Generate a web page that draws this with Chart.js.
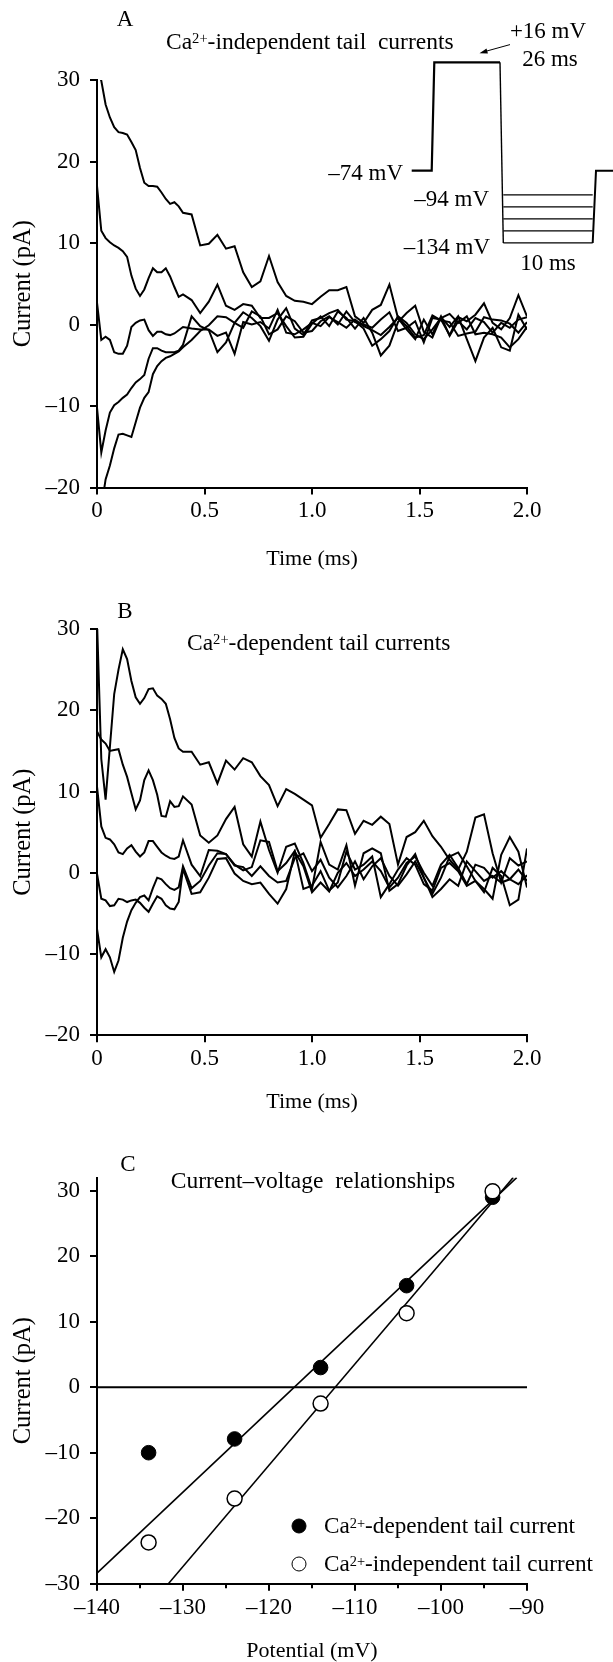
<!DOCTYPE html>
<html>
<head>
<meta charset="utf-8">
<script src="https://cdn.jsdelivr.net/npm/chart.js"></script>
<style>
body{margin:0;background:#fff;}
#page{position:relative;width:613px;height:1662px;overflow:hidden;font-family:'Liberation Serif',serif;font-size:23px;color:#000;}
canvas{position:absolute;left:0;}
.t{position:absolute;white-space:nowrap;line-height:1;}
.c{transform:translate(-50%,-50%);}
.l{transform:translateY(-50%);}
.r{transform:translate(-100%,-50%);}
sup{font-size:0.62em;vertical-align:0;position:relative;top:-0.38em;}
.ttl{font-size:23.5px;}
.leg{font-size:23.2px;}
.dot{position:absolute;width:15px;height:15px;border-radius:50%;transform:translate(-50%,-50%);box-sizing:border-box;border:1.5px solid #000;}
</style>
</head>
<body>
<div id="page">
<canvas id="chartA" width="613" height="580" style="top:0px"></canvas>
<canvas id="chartB" width="613" height="540" style="top:580px"></canvas>
<canvas id="chartC" width="613" height="542" style="top:1120px"></canvas>

<div class="t c" style="left:125px;top:18px">A</div>
<div class="t l ttl" style="left:166px;top:42px">Ca<sup>2+</sup>-independent tail&nbsp; currents</div>
<div class="t c" style="left:548px;top:30px">+16 mV</div>
<div class="t c" style="left:550px;top:58px">26 ms</div>
<div class="t r" style="left:403px;top:172px">–74 mV</div>
<div class="t r" style="left:489px;top:198px">–94 mV</div>
<div class="t r" style="left:490px;top:246px">–134 mV</div>
<div class="t c" style="left:548px;top:262px">10 ms</div>

<div class="t c" style="left:125px;top:610px">B</div>
<div class="t l ttl" style="left:187px;top:643px">Ca<sup>2+</sup>-dependent tail currents</div>

<div class="t c" style="left:128px;top:1163px">C</div>
<div class="t c ttl" style="left:313px;top:1181px">Current–voltage&nbsp; relationships</div>
<div class="dot" style="left:299px;top:1526px;background:#000"></div>
<div class="t l leg" style="left:324px;top:1526px">Ca<sup>2+</sup>-dependent tail current</div>
<div class="dot" style="left:299px;top:1564px;background:#fff"></div>
<div class="t l leg" style="left:324px;top:1564px">Ca<sup>2+</sup>-independent tail current</div>
</div>
<script>
//Data
var timeMs = [0,0.02,0.04,0.06,0.08,0.1,0.12,0.14,0.16,0.18,0.2,0.22,0.24,0.26,0.28,0.3,0.32,0.34,0.36,0.38,0.4,
	0.44,0.48,0.52,0.56,0.6,0.64,0.68,0.72,0.76,0.8,0.84,0.88,0.92,0.96,1,1.04,1.08,1.12,1.16,1.2,
	1.24,1.28,1.32,1.36,1.4,1.44,1.48,1.52,1.56,1.6,1.64,1.68,1.72,1.76,1.8,1.84,1.88,1.92,1.96,2];
//A - Ca2+-independent, one trace per step potential
var indep94 = [31.5,29.9,27.0,25.4,24.2,23.6,23.5,23.3,22.4,21.4,19.2,17.4,17.0,17.0,16.9,16.2,15.4,14.8,15.0,14.5,13.7,
	13.5,9.7,9.9,11.0,9.3,9.6,6.4,4.6,5.3,8.4,5.2,3.5,2.9,2.8,2.5,3.4,4.2,4.2,4.6,1.0,
	0.2,1.8,2.4,4.9,0.8,-0.6,-1.8,0.6,-1.2,1.0,-1.4,0.4,-0.6,0.8,0.3,-1.0,0.2,-0.4,0.6,0.9];
var indep104 = [17.0,11.5,10.6,10.1,9.7,9.4,9.0,8.3,6.0,4.4,3.5,4.3,5.7,6.9,6.4,6.4,6.9,5.9,4.6,3.4,3.7,
	3.0,1.4,2.8,4.9,2.3,1.8,2.5,2.3,0.8,0.8,1.4,-0.2,-1.6,-1.5,0.1,1.0,-0.2,1.6,0.8,-0.5,
	0.8,-1.0,-3.8,-2.6,0.3,1.4,2.3,-0.9,-1.6,0.9,-0.3,1.0,-1.8,-4.5,-1.6,-0.4,-2.8,-3.2,1.2,-0.6];
var indep114 = [2.7,-1.9,-1.5,-1.9,-3.4,-3.6,-3.6,-2.6,-0.3,0.2,0.5,0.6,-0.7,-1.4,-0.9,-0.9,-1.2,-1.3,-1.1,-0.7,-0.3,
	-0.5,-0.6,-0.6,-1.4,-1.0,-3.6,0.3,0.0,0.3,-0.5,1.8,-1.0,-1.2,-0.6,0.2,-0.2,0.9,0.3,-0.4,0.6,
	-0.2,-0.7,-1.3,-0.3,0.8,-0.2,-1.6,-1.3,1.1,0.5,0.3,-1.4,-1.1,-0.9,0.9,0.6,0.5,0.1,-1.0,0.3];
var indep124 = [-10.2,-15.7,-13.0,-10.8,-9.9,-9.5,-9.0,-8.6,-7.8,-7.1,-6.7,-6.2,-4.2,-2.9,-2.9,-3.2,-3.4,-3.4,-3.4,-3.2,-2.5,
	1.0,-0.2,-0.7,-3.4,-2.2,0.2,1.5,0.8,-0.2,-2.0,0.6,2.0,-0.5,-1.3,0.5,0.8,1.4,1.8,0.6,0.4,
	-0.5,-2.6,-1.8,-0.8,1.0,0.2,-1.2,-1.8,-0.6,0.8,1.3,0.2,1.0,-1.2,-1.0,-1.2,-1.6,-2.8,-1.8,-0.3];
var indep134 = [-25,-22.5,-19.0,-17.3,-15.2,-13.5,-13.4,-13.6,-13.8,-12.0,-10.2,-9.0,-8.3,-6.1,-5.1,-4.5,-4.1,-3.9,-3.6,-3.3,-2.8,
	-1.9,-0.8,-0.1,1.0,0.9,0.2,-0.4,1.6,1.0,-1.2,-0.6,1.0,0.4,-1.0,-0.8,0.4,1.0,0.0,1.6,0.3,
	0.0,-0.4,0.6,1.5,-0.8,-0.4,0.4,-2.2,0.8,0.6,-1.3,0.9,0.4,1.2,2.6,0.2,-0.6,0.8,3.6,1.0];
//B - Ca2+-dependent
var dep94 = [31.0,14.0,9.0,15.5,22.0,25.0,27.5,26.3,23.6,21.6,20.8,21.5,22.6,22.7,21.8,21.4,20.8,18.9,16.6,15.3,14.9,
	14.9,13.3,13.6,11.0,13.8,12.7,14.1,13.6,11.9,10.8,8.2,10.3,9.7,9.0,8.3,4.3,6.0,7.8,7.7,4.8,
	6.4,5.9,6.9,6.0,1.0,4.4,5.0,6.4,4.5,3.2,1.6,0.4,2.6,6.8,7.2,2.4,-1.2,1.8,0.9,1.4];
var dep104 = [17.4,16.4,15.9,15.0,15.1,15.2,13.3,11.8,9.8,7.8,8.9,11.4,12.6,11.4,9.6,7.0,6.9,8.8,8.1,8.2,9.4,
	8.4,4.6,3.7,4.6,6.6,8.1,3.5,2.0,6.3,2.8,0.0,3.2,3.6,1.2,-2.0,3.8,1.0,0.4,3.4,-1.6,
	2.4,3.0,2.4,-2.2,-1.4,0.9,2.3,-0.6,-2.6,-0.6,2.0,2.5,0.8,-1.0,-2.0,-3.2,2.2,4.4,2.6,-1.8];
var dep114 = [10.6,5.7,4.3,4.1,3.5,2.5,2.3,3.0,3.4,2.6,2.0,2.5,3.9,3.9,3.2,2.5,2.1,1.8,1.7,2.0,4.0,
	1.0,-0.4,2.8,2.7,2.3,1.0,0.3,0.7,4.0,3.8,0.2,1.2,2.7,-2.0,-1.6,0.2,-2.2,-1.2,2.6,0.4,
	1.0,2.0,-3.0,-1.4,0.4,1.8,1.0,-1.4,-2.2,0.6,1.2,0.2,-1.6,-1.0,-2.4,0.6,-0.4,-4.0,-3.3,3.0];
var dep124 = [-0.1,-3.2,-3.4,-4.1,-4.0,-3.2,-3.3,-3.6,-3.4,-3.3,-3.7,-4.3,-4.8,-3.8,-2.9,-3.2,-4.0,-4.4,-4.5,-3.6,0.5,
	-2.6,-2.4,-0.6,1.7,1.8,-0.1,-1.0,-1.4,-1.2,-2.6,-3.8,-2.0,2.6,0.8,-2.4,-1.2,-2.3,0.0,1.2,-0.4,
	0.4,1.4,0.2,-1.8,-0.6,1.2,2.0,0.0,-1.6,1.0,2.2,0.6,-1.4,1.0,0.6,-0.6,0.2,-0.8,-1.4,-0.3];
var dep134 = [-6.9,-10.4,-9.4,-10.4,-12.2,-10.8,-8.0,-6.0,-4.6,-3.7,-3.0,-2.8,-3.4,-1.9,-0.6,-0.8,-1.4,-1.9,-2.1,-1.8,0.8,
	-1.9,-1.0,0.9,2.4,2.3,0.9,0.7,-0.4,0.8,-0.4,-1.2,-1.0,1.8,2.4,0.2,1.6,-0.6,-1.8,-0.4,1.4,
	-0.8,0.8,1.8,-0.4,-1.6,-0.2,1.4,-0.6,-3.0,-2.0,-0.8,-1.6,1.4,0.2,-1.0,-0.4,-1.2,-0.8,0.4,-1.0];
//C - current-voltage
var potentialMv = [-134,-124,-114,-104,-94];
var depCurrent = [-10.0,-7.9,3.0,15.5,29.0];
var indepCurrent = [-23.7,-17.0,-2.5,11.3,29.9];
var fitDepMv = [-140,-91.2], fitDepPa = [-28.4,32];
var fitIndepMv = [-131.7,-91.6], fitIndepPa = [-30,32];
var zeroMv = [-140,-90], zeroPa = [0,0];
//Ticks
var tickTime = [0,0.5,1,1.5,2];
var tickTimeLabels = ['0','0.5','1.0','1.5','2.0'];
var tickCurrentAB = [-20,-10,0,10,20,30];
var tickCurrentC = [-30,-20,-10,0,10,20,30];
var tickPotential = [-140,-130,-120,-110,-100,-90];
var minorPotential = [-135,-125,-115,-105,-95];
//Protocol inset (mV)
var holdMv = -74, pulseMv = 16, stepMv = [-94,-104,-114,-124,-134];

var tickFont = {family:'Liberation Serif',size:23};
var xTitleFont = {family:'Liberation Serif',size:22};
var yTitleFont = {family:'Liberation Serif',size:24.5};
function xy(xs,ys){return xs.map(function(x,i){return {x:x,y:ys[i]};});}
function traces(list){
	return list.map(function(v){
		return {data:xy(timeMs,v),borderColor:'#000',borderWidth:2,pointRadius:0,tension:0,fill:false};
	});
}
function fixTicks(arr){return function(s){s.ticks=arr.map(function(v){return {value:v};});};}
function dash(v){return v<0?'–'+(-v):''+v;}
var gridOpt = {drawOnChartArea:false,tickLength:7,color:'#000',lineWidth:2};
var borderOpt = {color:'#000',width:2};
function currentAxis(min,max,ticks){
	return {type:'linear',min:min,max:max,afterBuildTicks:fixTicks(ticks),
		afterFit:function(s){s.width=97;},
		ticks:{font:tickFont,color:'#000',padding:10,callback:dash},
		grid:gridOpt,border:borderOpt,
		title:{display:true,text:'Current (pA)',font:yTitleFont,color:'#000',padding:{top:8.8,bottom:0}}};
}
function timeAxis(h,pb){
	return {type:'linear',min:0,max:2,afterBuildTicks:fixTicks(tickTime),
		afterFit:function(s){s.height=h;},
		ticks:{font:tickFont,color:'#000',padding:3,maxRotation:0,autoSkip:false,callback:function(v,i){return tickTimeLabels[i];}},
		grid:gridOpt,border:borderOpt,
		title:{display:true,text:'Time (ms)',font:xTitleFont,color:'#000',padding:{top:0,bottom:pb}}};
}
var baseOpts = {responsive:false,animation:false,plugins:{legend:{display:false},tooltip:{enabled:false}}};

//Protocol drawing for panel A
var protocol = {id:'protocol',afterDraw:function(ch){
	var ctx = ch.ctx;
	function vy(v){return 170.7-(v-holdMv)*1.204;}
	ctx.save();
	ctx.strokeStyle = '#000';
	ctx.lineWidth = 2.2;
	ctx.beginPath();
	ctx.moveTo(411.7,vy(holdMv));ctx.lineTo(431.7,vy(holdMv));
	ctx.lineTo(434.3,vy(pulseMv));ctx.lineTo(500,vy(pulseMv));
	ctx.stroke();
	ctx.lineWidth = 1.4;
	ctx.beginPath();
	ctx.moveTo(500,vy(pulseMv));ctx.lineTo(503.3,vy(stepMv[stepMv.length-1]));
	ctx.stroke();
	ctx.lineWidth = 1.2;
	stepMv.forEach(function(v){
		ctx.beginPath();ctx.moveTo(503.3,vy(v));ctx.lineTo(592.7,vy(v));ctx.stroke();
	});
	ctx.lineWidth = 2;
	ctx.beginPath();
	ctx.moveTo(592.7,vy(stepMv[stepMv.length-1]));ctx.lineTo(596,vy(holdMv));ctx.lineTo(613,vy(holdMv));
	ctx.stroke();
	//arrow
	ctx.lineWidth = 1;
	ctx.beginPath();ctx.moveTo(510,44.6);ctx.lineTo(485,51.5);ctx.stroke();
	ctx.beginPath();ctx.moveTo(479.5,53.2);ctx.lineTo(487.9,53.4);ctx.lineTo(486.5,48.6);ctx.closePath();
	ctx.fillStyle = '#000';ctx.fill();
	ctx.restore();
}};

var minorTicks = {id:'minorTicks',afterDraw:function(ch){
	var s = ch.scales.x, ctx = ch.ctx, y = ch.chartArea.bottom;
	ctx.save();ctx.strokeStyle = '#000';ctx.lineWidth = 2;
	minorPotential.forEach(function(v){
		var x = s.getPixelForValue(v);
		ctx.beginPath();ctx.moveTo(x,y);ctx.lineTo(x,y+4.5);ctx.stroke();
	});
	ctx.restore();
}};

//Chart A
new Chart(document.getElementById('chartA'),{
	type:'line',
	data:{datasets:traces([indep94,indep104,indep114,indep124,indep134])},
	options:Object.assign({},baseOpts,{
		layout:{padding:{top:80,right:86,left:0,bottom:0}},
		scales:{x:timeAxis(92.5,7.5),y:currentAxis(-20,30,tickCurrentAB)}
	}),
	plugins:[protocol]
});
//Chart B
new Chart(document.getElementById('chartB'),{
	type:'line',
	data:{datasets:traces([dep94,dep104,dep114,dep124,dep134])},
	options:Object.assign({},baseOpts,{
		layout:{padding:{top:49,right:86,left:0,bottom:0}},
		scales:{x:timeAxis(84.7,4.5),y:currentAxis(-20,30,tickCurrentAB)}
	})
});
//Chart C
new Chart(document.getElementById('chartC'),{
	type:'line',
	data:{datasets:[
		{data:xy(potentialMv,indepCurrent),showLine:false,pointRadius:7.5,pointBackgroundColor:'#fff',pointBorderColor:'#000',pointBorderWidth:1.5,order:0},
		{data:xy(potentialMv,depCurrent),showLine:false,pointRadius:7.3,pointBackgroundColor:'#000',pointBorderColor:'#000',pointBorderWidth:1,order:1},
		{data:xy(fitDepMv,fitDepPa),borderColor:'#000',borderWidth:1.6,pointRadius:0,order:2},
		{data:xy(fitIndepMv,fitIndepPa),borderColor:'#000',borderWidth:1.6,pointRadius:0,order:2},
		{data:xy(zeroMv,zeroPa),borderColor:'#000',borderWidth:2,pointRadius:0,order:2}
	]},
	options:Object.assign({},baseOpts,{
		layout:{padding:{top:57.6,right:86,left:0,bottom:0}},
		scales:{
			x:{type:'linear',min:-140,max:-90,afterBuildTicks:fixTicks(tickPotential),
				afterFit:function(s){s.height=78.3;},
				ticks:{font:tickFont,color:'#000',padding:3,maxRotation:0,autoSkip:false,callback:dash},
				grid:gridOpt,border:borderOpt,
				title:{display:true,text:'Potential (mV)',font:{family:'Liberation Serif',size:22,lineHeight:1},color:'#000',padding:{top:0,bottom:0}}},
			y:currentAxis(-30,32,tickCurrentC)
		}
	}),
	plugins:[minorTicks]
});
</script>
</body>
</html>
